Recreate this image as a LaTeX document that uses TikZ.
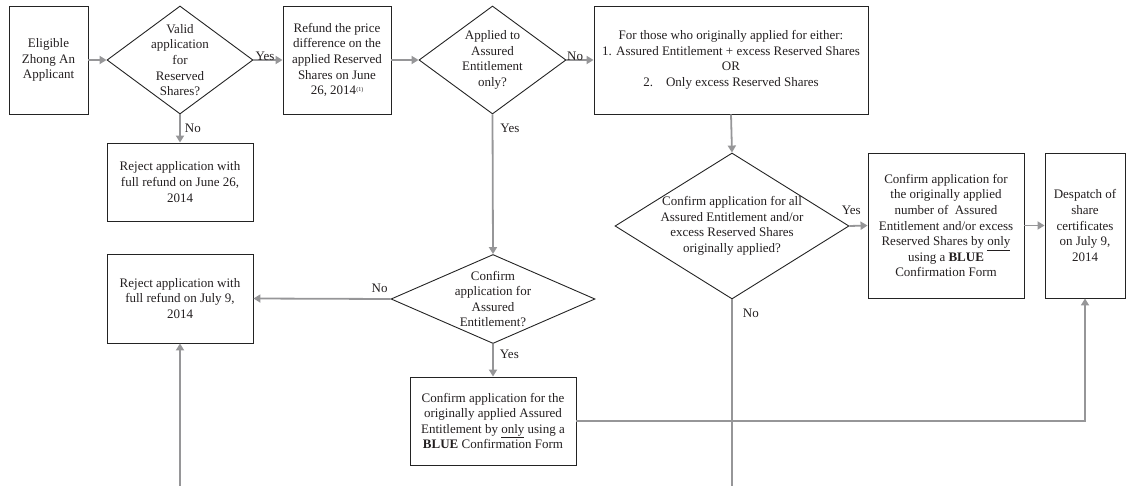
\documentclass[tikz,border=0pt]{standalone}
\usepackage{fontspec}
\setmainfont{Liberation Serif}
\usetikzlibrary{arrows.meta,shapes.geometric}
\definecolor{conn}{RGB}{150,150,152}
\definecolor{edge}{RGB}{35,35,35}
\definecolor{txt}{RGB}{35,31,32}
\begin{document}
\begin{tikzpicture}[x=1pt,y=-1pt,
  font=\fontsize{13}{15.6}\selectfont,
  box/.style={draw=edge,line width=0.9pt,inner sep=0pt,align=center,text=txt},
  dia/.style={diamond,draw=edge,line width=0.9pt,inner sep=0pt},
  dtext/.style={align=center,text=txt,inner sep=0pt},
  lab/.style={text=txt,inner sep=1pt},
  arr/.style={draw=conn,line width=1.8pt,-{Triangle[length=7pt,width=8pt]}},
  plain/.style={draw=conn,line width=1.8pt}]
\useasboundingbox (0,0) rectangle (1126,486);
% boxes
\node[box,minimum width=79,minimum height=108] (app) at (48.5,60) {Eligible\\Zhong An\\Applicant};
\node[box,minimum width=108,minimum height=108] (ref) at (337,60) {Refund the price\\difference on the\\applied Reserved\\Shares on June\\26, 2014\raisebox{0.6ex}{\fontsize{6}{6}\selectfont(1)}};
\node[box,minimum width=274,minimum height=108] (either) at (731,60) {For those who originally applied for either:\\1. Assured Entitlement + excess Reserved Shares\\OR\\2.\hspace{1em}Only excess Reserved Shares};
\node[box,minimum width=146,minimum height=78] (rej1) at (180,182) {Reject application with\\full refund on June 26,\\2014};
\node[box,minimum width=146,minimum height=89] (rej2) at (180,298.5) {Reject application with\\full refund on July 9,\\2014};
\node[box,minimum width=166,minimum height=88] (conf) at (493,421) {Confirm application for the\\originally applied Assured\\Entitlement by \underline{only} using a\\\textbf{BLUE} Confirmation Form};
\node[box,minimum width=156,minimum height=145] (confall) at (946,225.5) {Confirm application for\\the originally applied\\number of \ Assured\\Entitlement and/or excess\\Reserved Shares by \underline{only}\\using a \textbf{BLUE}\\Confirmation Form};
\node[box,minimum width=80,minimum height=145] (desp) at (1085,225.5) {Despatch of\\share\\certificates\\on July 9,\\2014};
% diamonds
\node[dia,minimum width=146,minimum height=108] (valid) at (180,60) {};
\node[dtext] (validt) at (valid) {Valid\\application\\for\\Reserved\\Shares?};
\node[dia,minimum width=147,minimum height=108] (only) at (492.5,60) {};
\node[dtext] (onlyt) at (only) {Applied to\\Assured\\Entitlement\\only?};
\node[dia,minimum width=234,minimum height=146] (all) at (732,226) {};
\node[dtext] (allt) at (all) {Confirm application for all\\Assured Entitlement and/or\\excess Reserved Shares\\originally applied?};
\node[dia,minimum width=204,minimum height=89] (ae) at (493,299) {};
\node[dtext] (aet) at (ae) {Confirm\\application for\\Assured\\Entitlement?};
% free ends at the cut edge
\coordinate (allend) at (732,486);
\coordinate (rejstart) at (180,486);
% connectors
\draw[arr] (app.east) -- (valid.west);
\draw[arr] (valid.east) -- (ref.west) node[lab,pos=0.4,above=-3pt] {Yes};
\draw[arr] (valid.south) -- (rej1.north) node[lab,pos=0.5,right=3pt] {No};
\draw[arr] (ref.east) -- (only.west);
\draw[arr] (only.east) -- (either.west) node[lab,pos=0.32,above=-3pt] {No};
\draw[arr] (only.south) -- (ae.north) node[lab,pos=0.1,right=6pt] {Yes};
\draw[arr] (either.south) -- (all.north);
\draw[arr] (all.east) -- (confall.west) node[lab,pos=0.1,above=9pt] {Yes};
\draw[arr] (confall.east) -- (desp.west);
\draw[arr] (ae.west) -- (rej2.east) node[lab,pos=0.08,above=4pt] {No};
\draw[arr] (ae.south) -- (conf.north) node[lab,pos=0.33,right=5pt] {Yes};
\draw[arr] (conf.east) -| (desp.south);
\draw[plain] (all.south) -- (allend) node[lab,pos=0.075,right=9pt] {No};
\draw[arr] (rejstart) -- (rej2.south);
\end{tikzpicture}
\end{document}
